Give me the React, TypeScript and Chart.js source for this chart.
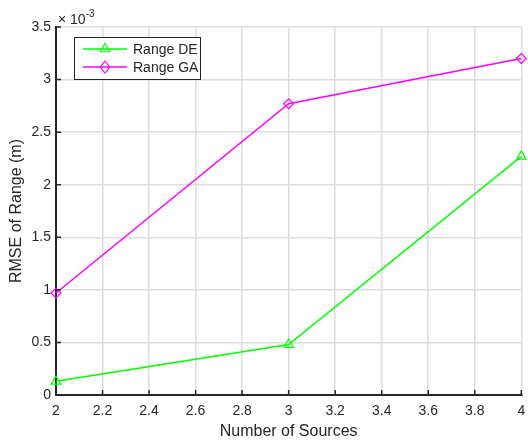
import React, { useEffect, useRef } from 'react';
import { Chart, registerables } from 'chart.js';

Chart.register(...registerables);

const xValues = [2, 3, 4];
const rangeDE = [0.13, 0.48, 2.27]; // ×10^-3
const rangeGA = [0.97, 2.77, 3.2]; // ×10^-3
const seriesLabels = ['Range DE', 'Range GA'];
const seriesColors = ['#00ff00', '#ff00ff'];
const exponentBase = '× 10';
const exponentPower = '-3';
const xTitle = 'Number of Sources';
const yTitle = 'RMSE of Range (m)';

const FONT = 'Arial, "Liberation Sans", Helvetica, sans-serif';
const AXIS = '#262626';

function drawTriangle(ctx: CanvasRenderingContext2D, x: number, y: number, r: number) {
  ctx.beginPath();
  ctx.moveTo(x, y - r);
  ctx.lineTo(x + 0.866 * r, y + 0.5 * r);
  ctx.lineTo(x - 0.866 * r, y + 0.5 * r);
  ctx.closePath();
  ctx.stroke();
}
function drawDiamond(ctx: CanvasRenderingContext2D, x: number, y: number, r: number) {
  ctx.beginPath();
  ctx.moveTo(x, y - r);
  ctx.lineTo(x + r * 0.8, y);
  ctx.lineTo(x, y + r);
  ctx.lineTo(x - r * 0.8, y);
  ctx.closePath();
  ctx.stroke();
}

export default function App() {
  const ref = useRef<HTMLCanvasElement>(null);
  useEffect(() => {
    document.body.style.margin = '0';
    const plugin = {
      id: 'matlabStyle',
      afterDraw(chart: any) {
        const ctx: CanvasRenderingContext2D = chart.ctx;
        const { left, right, top, bottom } = chart.chartArea;
        const xs = chart.scales.x;
        const ys = chart.scales.y;
        ctx.save();
        // inward ticks
        ctx.strokeStyle = AXIS;
        ctx.lineWidth = 1.5;
        ctx.beginPath();
        xs.ticks.forEach((t: any) => {
          const px = xs.getPixelForValue(t.value);
          ctx.moveTo(px, bottom);
          ctx.lineTo(px, bottom - 5);
        });
        ys.ticks.forEach((t: any) => {
          const py = ys.getPixelForValue(t.value);
          ctx.moveTo(left, py);
          ctx.lineTo(left + 5, py);
        });
        ctx.stroke();
        // exponent label
        ctx.fillStyle = AXIS;
        ctx.textAlign = 'left';
        ctx.textBaseline = 'alphabetic';
        ctx.font = `14px ${FONT}`;
        ctx.fillText(exponentBase, left + 2, top - 3);
        const w = ctx.measureText(exponentBase).width;
        ctx.font = `10px ${FONT}`;
        ctx.fillText(exponentPower, left + 2 + w, top - 10);
        // axis titles
        ctx.font = `16px ${FONT}`;
        ctx.textAlign = 'center';
        ctx.textBaseline = 'middle';
        ctx.fillText(xTitle, (left + right) / 2, 432);
        ctx.save();
        ctx.translate(17, (top + bottom) / 2);
        ctx.rotate(-Math.PI / 2);
        ctx.fillText(yTitle, 0, 0);
        ctx.restore();
        // legend
        const lx = left + 18, ly = top + 10, lw = 126, lh = 42;
        ctx.fillStyle = '#ffffff';
        ctx.fillRect(lx, ly, lw, lh);
        ctx.strokeStyle = AXIS;
        ctx.lineWidth = 1;
        ctx.strokeRect(lx + 0.5, ly + 0.5, lw, lh);
        chart.data.datasets.forEach((ds: any, i: number) => {
          const yy = ly + 12 + i * 18;
          ctx.strokeStyle = ds.borderColor;
          ctx.lineWidth = 1.5;
          ctx.beginPath();
          ctx.moveTo(lx + 9, yy);
          ctx.lineTo(lx + 53, yy);
          ctx.stroke();
          ctx.lineWidth = 1.2;
          if (i === 0) drawTriangle(ctx, lx + 31, yy, 5.5);
          else drawDiamond(ctx, lx + 31, yy, 6);
          ctx.fillStyle = AXIS;
          ctx.font = `14px ${FONT}`;
          ctx.textAlign = 'left';
          ctx.textBaseline = 'middle';
          ctx.fillText(ds.label, lx + 59, yy + 1);
        });
        ctx.restore();
      },
    };

    const chart = new Chart(ref.current!, {
      type: 'line',
      data: {
        datasets: [
          {
            label: seriesLabels[0],
            data: xValues.map((x, i) => ({ x, y: rangeDE[i] })),
            borderColor: seriesColors[0],
            backgroundColor: 'transparent',
            borderWidth: 1.5,
            pointStyle: 'triangle',
            pointRadius: 5.5,
            pointBorderWidth: 1.2,
            pointBackgroundColor: 'transparent',
            pointBorderColor: seriesColors[0],
            clip: false as any,
          },
          {
            label: seriesLabels[1],
            data: xValues.map((x, i) => ({ x, y: rangeGA[i] })),
            borderColor: seriesColors[1],
            backgroundColor: 'transparent',
            borderWidth: 1.5,
            pointStyle: 'rectRot',
            pointRadius: 5,
            pointBorderWidth: 1.2,
            pointBackgroundColor: 'transparent',
            pointBorderColor: seriesColors[1],
            clip: false as any,
          },
        ],
      },
      options: {
        animation: false,
        responsive: false,
        layout: { padding: { left: 0, top: 27, right: 5, bottom: 0 } },
        plugins: { legend: { display: false }, tooltip: { enabled: false } },
        scales: {
          x: {
            type: 'linear',
            min: 2,
            max: 4,
            ticks: {
              stepSize: 0.2,
              color: AXIS,
              font: { family: FONT, size: 14 },
              padding: 8,
              maxRotation: 0,
              autoSkip: false,
              callback: (v: any) => String(parseFloat(Number(v).toFixed(1))),
            },
            grid: { color: '#dcdcdc', lineWidth: 1.5, drawTicks: false },
            border: { color: AXIS, width: 2 },
            afterFit: (s: any) => { s.height = 48; s.paddingLeft = 0; s.paddingRight = 0; },
          },
          y: {
            type: 'linear',
            min: 0,
            max: 3.5,
            ticks: {
              stepSize: 0.5,
              color: AXIS,
              font: { family: FONT, size: 14 },
              padding: 5,
              callback: (v: any) => String(parseFloat(Number(v).toFixed(1))),
            },
            grid: { color: '#dcdcdc', lineWidth: 1.5, drawTicks: false },
            border: { color: AXIS, width: 2 },
            afterFit: (s: any) => { s.width = 56; s.paddingTop = 0; s.paddingBottom = 0; },
          },
        },
      },
      plugins: [plugin],
    });
    return () => chart.destroy();
  }, []);
  return (
    <div style={{ width: 528, height: 443 }}>
      <canvas ref={ref} width={528} height={443} style={{ display: 'block' }} />
    </div>
  );
}
